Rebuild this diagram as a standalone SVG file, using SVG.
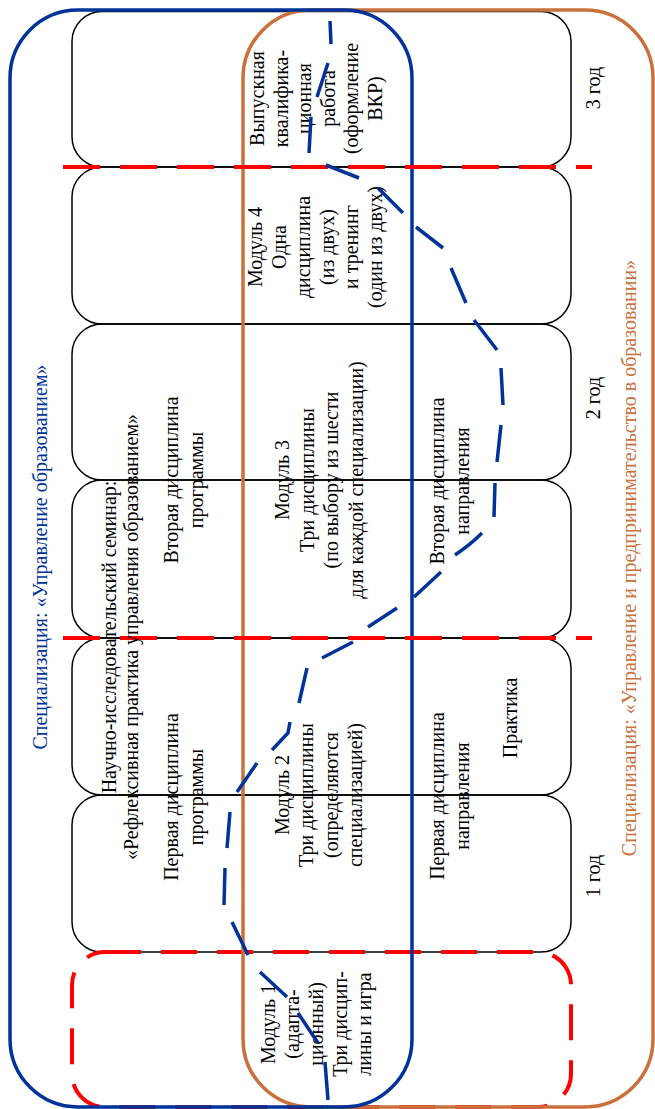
<svg xmlns="http://www.w3.org/2000/svg" width="655" height="1109" viewBox="0 0 655 1109">
<style>
text { font-family: "Liberation Serif", "Times New Roman", serif; font-size: 20px; fill: #000; }
.spec-blue { fill: #003399; }
.spec-orange { fill: #c9713d; }
.cell { fill: none; stroke: #000; stroke-width: 1.5; }
.zone-blue { fill: none; stroke: #003399; stroke-width: 3.5; }
.zone-orange { fill: none; stroke: #c9713d; stroke-width: 3.5; }
.divider { fill: none; stroke: #ff0000; stroke-width: 4; stroke-dasharray: 37 20; }
.adapt { fill: none; stroke: #ff0000; stroke-width: 4; stroke-dasharray: 36 20; }
.route { fill: none; stroke: #003399; stroke-width: 3.5; }
</style>
<rect x="0" y="0" width="655" height="1109" fill="#fff"/>

<g id="rows">
  <rect id="row-3god" class="cell" x="72" y="11.5" width="499" height="155.5" rx="30"/>
  <rect id="row-module4" class="cell" x="72" y="167" width="499" height="157" rx="30"/>
  <rect id="row-module3a" class="cell" x="72" y="324" width="499" height="156" rx="30"/>
  <rect id="row-module3b" class="cell" x="72" y="480" width="499" height="158" rx="30"/>
  <rect id="row-module2a" class="cell" x="72" y="638" width="499" height="157" rx="30"/>
  <rect id="row-module2b" class="cell" x="72" y="795" width="499" height="157" rx="30"/>
  <rect id="row-module1" class="adapt" x="72" y="952" width="499" height="155" rx="33"/>
</g>

<g id="zones">
  <rect id="zone-orange" class="zone-orange" x="243" y="10" width="410" height="1097" rx="68"/>
  <rect id="zone-blue" class="zone-blue" x="10" y="10" width="402" height="1097" rx="68"/>
</g>

<g id="year-dividers">
  <line class="divider" x1="63" y1="167" x2="592" y2="167"/>
  <line class="divider" x1="63" y1="638" x2="592" y2="638"/>
</g>

<g id="label-spec-blue">
  <text class="spec-blue" transform="translate(47,557) rotate(-90)" text-anchor="middle">Специализация: «Управление образованием»</text>
</g>
<g id="label-spec-orange">
  <text class="spec-orange" transform="translate(636,558) rotate(-90)" text-anchor="middle">Специализация: «Управление и предпринимательство в образовании»</text>
</g>

<g id="seminar">
  <text transform="translate(116,637) rotate(-90)" text-anchor="middle"><tspan x="0" y="0">Научно-исследовательский семинар:</tspan><tspan x="0" y="22">«Рефлексивная практика управления образованием»</tspan></text>
</g>
<g id="program-1">
  <text transform="translate(178,797) rotate(-90)" text-anchor="middle"><tspan x="0" y="0">Первая дисциплина</tspan><tspan x="0" y="25">программы</tspan></text>
</g>
<g id="program-2">
  <text transform="translate(178,480) rotate(-90)" text-anchor="middle"><tspan x="0" y="0">Вторая дисциплина</tspan><tspan x="0" y="25">программы</tspan></text>
</g>

<g id="module-1">
  <text transform="translate(275,1024) rotate(-90)" text-anchor="middle"><tspan x="0" y="0">Модуль 1</tspan><tspan x="0" y="24">(адапта-</tspan><tspan x="0" y="48">ционный)</tspan><tspan x="0" y="72">Три дисцип-</tspan><tspan x="0" y="96">лины и игра</tspan></text>
</g>
<g id="module-2">
  <text transform="translate(289,795) rotate(-90)" text-anchor="middle"><tspan x="0" y="0">Модуль 2</tspan><tspan x="0" y="24.3">Три дисциплины</tspan><tspan x="0" y="48.6">(определяются</tspan><tspan x="0" y="72.9">специализацией)</tspan></text>
</g>
<g id="module-3">
  <text transform="translate(289,480) rotate(-90)" text-anchor="middle"><tspan x="0" y="0">Модуль 3</tspan><tspan x="0" y="24.5">Три дисциплины</tspan><tspan x="0" y="49">(по выбору из шести</tspan><tspan x="0" y="73.5">для каждой специализации)</tspan></text>
</g>
<g id="module-4">
  <text transform="translate(262,247) rotate(-90)" text-anchor="middle"><tspan x="0" y="0">Модуль 4</tspan><tspan x="0" y="24">Одна</tspan><tspan x="0" y="48">дисциплина</tspan><tspan x="0" y="72">(из двух)</tspan><tspan x="0" y="96">и тренинг</tspan><tspan x="0" y="120">(один из двух)</tspan></text>
</g>
<g id="thesis">
  <text transform="translate(264,98.5) rotate(-90)" text-anchor="middle"><tspan x="0" y="0">Выпускная</tspan><tspan x="0" y="23.5">квалифика-</tspan><tspan x="0" y="47">ционная</tspan><tspan x="0" y="70.5">работа</tspan><tspan x="0" y="94">(оформление</tspan><tspan x="0" y="117.5">ВКР)</tspan></text>
</g>

<g id="direction-1">
  <text transform="translate(444,796) rotate(-90)" text-anchor="middle"><tspan x="0" y="0">Первая дисциплина</tspan><tspan x="0" y="25">направления</tspan></text>
</g>
<g id="direction-2">
  <text transform="translate(444,481) rotate(-90)" text-anchor="middle"><tspan x="0" y="0">Вторая дисциплина</tspan><tspan x="0" y="25">направления</tspan></text>
</g>
<g id="practice">
  <text transform="translate(517,718) rotate(-90)" text-anchor="middle">Практика</text>
</g>

<g id="year-1"><text transform="translate(600,876) rotate(-90)" text-anchor="middle">1 год</text></g>
<g id="year-2"><text transform="translate(600,398) rotate(-90)" text-anchor="middle">2 год</text></g>
<g id="year-3"><text transform="translate(600,88) rotate(-90)" text-anchor="middle">3 год</text></g>

<g id="connectors">
  <path class="route" d="M330,21 L331,44 M328,63 L317,97 M311,117 L309,153 M326,165 L359,178 M378,188 L403,213 M416,227 L443,248 M451,268 L466,303 M474,320 L497,350 M501,368 L503,405 M501,425 L497,462 M495,483 L494,517 M482,533 Q470,545 455,555 M441,572 L414,597 M397,608 L368,627 M353,642 L322,658 M307,668 L299,703 M290,722 L288,733 L272,750 M257,763 L237,792 M230,812 L227,848 M225,868 L224,905 M232,922 L248,955 M260,972 L287,997 M298,1013 L318,1043 M325,1062 L328,1100"/>
</g>
</svg>
